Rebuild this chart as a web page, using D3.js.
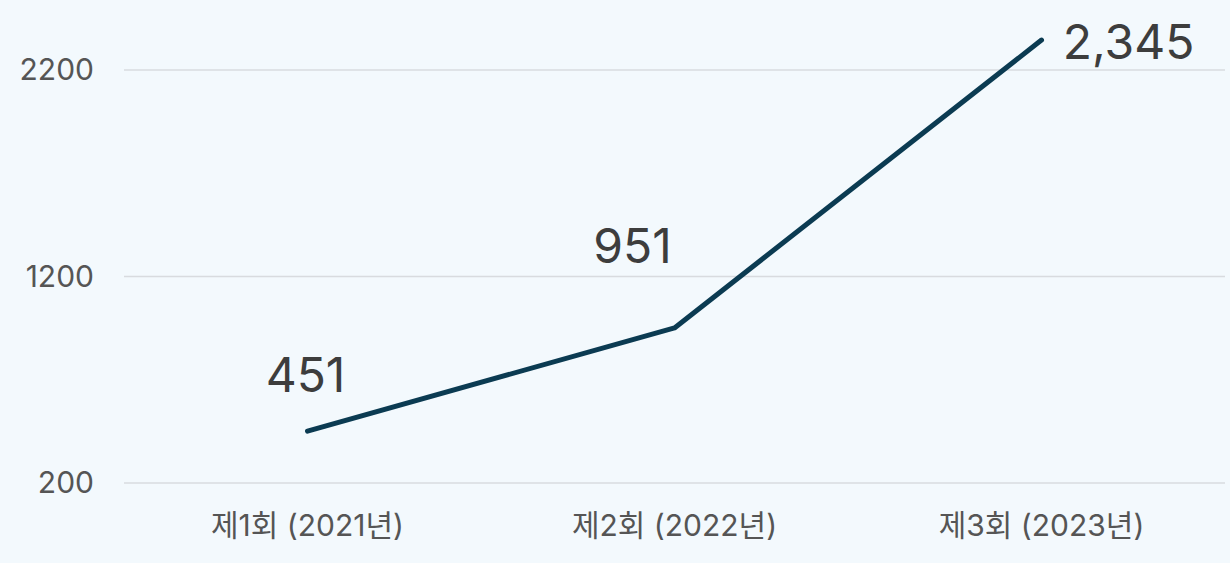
<!DOCTYPE html>
<html lang="ko">
<head>
<meta charset="utf-8">
<script src="https://cdn.jsdelivr.net/npm/d3@7"></script>
<style>
  html, body { margin: 0; padding: 0; background: #f3f9fd; }
  svg { display: block; }
  text { font-family: Inter, "Noto Sans CJK KR", sans-serif; }
</style>
</head>
<body>
<div id="chart"></div>
<script>
const categories = ["제1회 (2021년)", "제2회 (2022년)", "제3회 (2023년)"];
const values = [451, 951, 2345];
const valueLabels = ["451", "951", "2,345"];
const yTicks = [200, 1200, 2200];

// label placement relative to each point (px)
const labelOffsets = [
  { dx: -2, dy: -39 },
  { dx: -42, dy: -65 },
  { dx: 87, dy: 19 }
];

const width = 1230;
const height = 563;
const margin = { top: 0, right: 5, bottom: 80, left: 124 };

const svg = d3.select("#chart")
  .append("svg")
  .attr("width", width)
  .attr("height", height);

svg.append("rect")
  .attr("width", width)
  .attr("height", height)
  .attr("fill", "#f3f9fd");

const x = d3.scaleBand()
  .domain(categories)
  .range([margin.left, width - margin.right])
  .padding(0);

// 200 -> 483, 2200 -> 70
const y = d3.scaleLinear()
  .domain([200, 2200])
  .range([483, 70]);

// grid lines
svg.append("g")
  .selectAll("line")
  .data(yTicks)
  .enter()
  .append("line")
  .attr("x1", margin.left)
  .attr("x2", width - margin.right)
  .attr("y1", (d) => y(d))
  .attr("y2", (d) => y(d))
  .attr("stroke", "#d8dbdf")
  .attr("stroke-width", 1.5);

// y tick labels
const yAxis = svg.append("g")
  .attr("transform", "translate(94,0)")
  .call(d3.axisLeft(y).tickValues(yTicks).tickSize(0).tickPadding(0).tickFormat(d3.format("d")));
yAxis.select(".domain").remove();
yAxis.selectAll("text")
  .attr("fill", "#555555")
  .attr("font-size", 30)
  .attr("font-family", "Inter, sans-serif");

// x tick labels
const xAxis = svg.append("g")
  .attr("transform", "translate(0,515)")
  .call(d3.axisBottom(x).tickSize(0).tickPadding(0));
xAxis.select(".domain").remove();
xAxis.selectAll("text")
  .attr("fill", "#555555")
  .attr("font-size", 30)
  .attr("font-family", "Inter, 'Noto Sans CJK KR', sans-serif")
  .attr("dy", "0.71em");

const points = categories.map((c, i) => ({ c, v: values[i], label: valueLabels[i], off: labelOffsets[i] }));

const line = d3.line()
  .x((d) => x(d.c) + x.bandwidth() / 2)
  .y((d) => y(d.v));

svg.append("path")
  .datum(points)
  .attr("d", line)
  .attr("fill", "none")
  .attr("stroke", "#0b3b52")
  .attr("stroke-width", 5)
  .attr("stroke-linecap", "round")
  .attr("stroke-linejoin", "round");

svg.append("g")
  .selectAll("text")
  .data(points)
  .enter()
  .append("text")
  .attr("x", (d) => x(d.c) + x.bandwidth() / 2 + d.off.dx)
  .attr("y", (d) => y(d.v) + d.off.dy)
  .attr("text-anchor", "middle")
  .attr("fill", "#3d3d3d")
  .attr("font-size", 48)
  .attr("font-family", "Inter, sans-serif")
  .text((d) => d.label);
</script>
</body>
</html>
